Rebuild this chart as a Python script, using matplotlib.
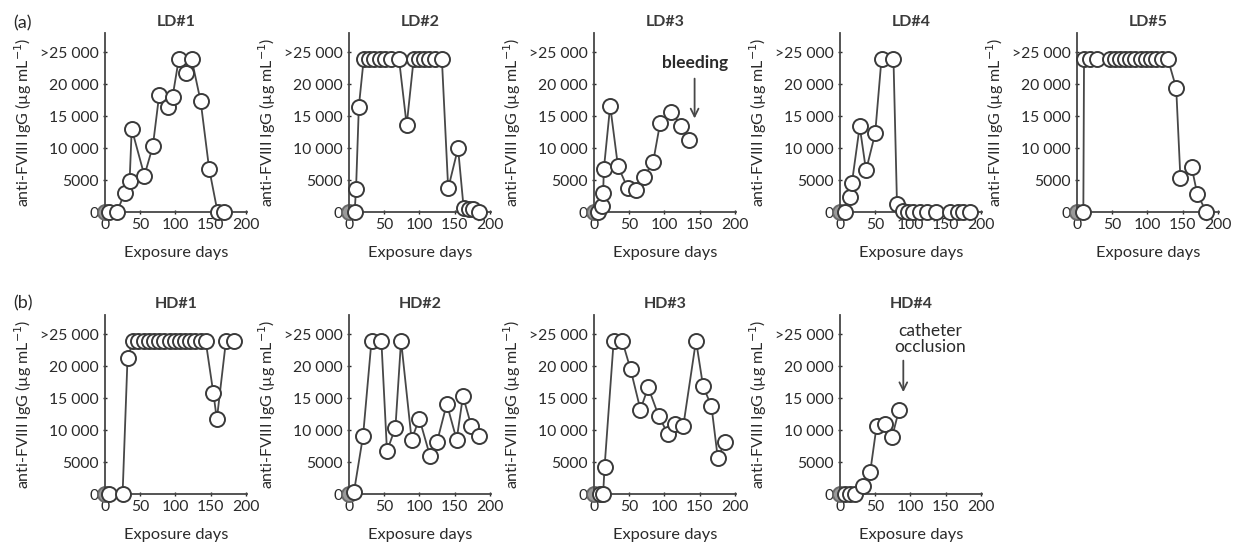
import matplotlib
matplotlib.use("Agg")
import matplotlib.pyplot as plt

# ── Data (saturated ">25 000" values drawn at 24 000) ─────────────────────────
ld1_days = [0, 6, 17, 28, 35, 38, 56, 68, 77, 89, 96, 105, 115, 123, 136, 148, 160, 169]
ld1_igg  = [0, 0, 0, 3000, 4900, 13000, 5700, 10300, 18300, 16500, 18000, 24000, 21800,
            24000, 17300, 6800, 0, 0]

ld2_days = [0, 8, 10, 14, 21, 29, 36, 44, 51, 59, 71, 82, 92, 99, 107, 114, 122, 132,
            141, 155, 163, 170, 176, 185]
ld2_igg  = [0, 0, 3600, 16500, 24000, 24000, 24000, 24000, 24000, 24000, 24000, 13600,
            24000, 24000, 24000, 24000, 24000, 24000, 3700, 10000, 600, 500, 500, 0]

ld3_days = [0, 6, 12, 13, 14, 23, 34, 48, 60, 71, 84, 94, 110, 124, 135]
ld3_igg  = [0, 0, 900, 2900, 6700, 16600, 7200, 3700, 3400, 5500, 7800, 13900, 15700,
            13500, 11300]

ld4_days = [0, 7, 14, 17, 28, 37, 50, 59, 76, 81, 90, 97, 104, 114, 123, 137, 156, 168,
            175, 185]
ld4_igg  = [0, 0, 2300, 4600, 13400, 6500, 12300, 24000, 24000, 1300, 200, 0, 0, 0, 0,
            0, 0, 0, 0, 0]

ld5_days = [0, 9, 10, 18, 28, 47, 54, 61, 68, 75, 82, 91, 98, 105, 113, 121, 129, 141,
            147, 163, 171, 184]
ld5_igg  = [0, 0, 24000, 24000, 24000, 24000, 24000, 24000, 24000, 24000, 24000, 24000,
            24000, 24000, 24000, 24000, 24000, 19400, 5300, 7000, 2800, 0]

hd1_days = [0, 5, 25, 32, 40, 47, 55, 62, 70, 77, 84, 92, 99, 106, 114, 121, 128, 136,
            143, 154, 159, 172, 184]
hd1_igg  = [0, 0, 0, 21200, 24000, 24000, 24000, 24000, 24000, 24000, 24000, 24000,
            24000, 24000, 24000, 24000, 24000, 24000, 24000, 15800, 11700, 24000, 24000]

hd2_days = [0, 7, 20, 32, 46, 54, 66, 74, 89, 100, 115, 125, 139, 153, 162, 174, 185]
hd2_igg  = [0, 300, 9100, 24000, 24000, 6700, 10400, 24000, 8500, 11800, 6000, 8100,
            14100, 8500, 15300, 10600, 9100]

hd3_days = [0, 8, 13, 15, 28, 40, 52, 66, 77, 92, 105, 115, 127, 145, 155, 167, 176, 186]
hd3_igg  = [0, 0, 0, 4200, 24000, 24000, 19500, 13200, 16700, 12200, 9400, 11000, 10700,
            24000, 16900, 13700, 5600, 8100]

hd4_days = [0, 7, 14, 21, 32, 43, 52, 64, 74, 84]
hd4_igg  = [0, 0, 0, 0, 1200, 3500, 10600, 11000, 8900, 13200]

y_ticks  = [0, 5000, 10000, 15000, 20000, 25000]
y_labels = ["0", "5000", "10 000", "15 000", "20 000", ">25 000"]
x_ticks  = [0, 50, 100, 150, 200]

# ── Style ─────────────────────────────────────────────────────────────────────
TXT  = "#2a2a2a"
LINE = "#474747"
plt.rcParams["font.family"] = ["Lato", "DejaVu Sans"]
plt.rcParams["font.size"] = 11.5

W, H = 1233, 548
fig = plt.figure(figsize=(W / 100, H / 100), dpi=100)

COL_X = [105, 349, 594, 840, 1077]          # pixel of x = 0 for each column
ROW_Y0 = {"a": 212, "b": 494}               # pixel of y = 0 for each row
AX_W = 142.1                                # px for 0..202 days
AX_H = 179                                  # px for 0..28000


def panel(col, row, title, days, igg):
    left = COL_X[col] / W
    bottom = (H - ROW_Y0[row]) / H
    ax = fig.add_axes([left, bottom, AX_W / W, AX_H / H])
    ax.plot(days, igg, color=LINE, lw=1.3, zorder=2, clip_on=False)
    ax.plot(days[1:], igg[1:], ls="none", marker="o", ms=10.8, mfc="white",
            mec="#3a3a3a", mew=1.4, zorder=3, clip_on=False)
    ax.plot(days[:1], igg[:1], ls="none", marker="o", ms=10.8, mfc="#9a9a9a",
            mec="#6a6a6a", mew=1.4, zorder=2.5, clip_on=False)

    ax.set_xlim(0, 202)
    ax.set_ylim(0, 28000)
    ax.set_xticks(x_ticks)
    ax.set_yticks(y_ticks)
    ax.set_yticklabels(y_labels)
    ax.tick_params(colors=TXT, labelsize=11.3, length=3, width=1, direction="inout",
                   pad=3)
    for s in ("top", "right"):
        ax.spines[s].set_visible(False)
    for s in ("left", "bottom"):
        ax.spines[s].set_color(LINE)
        ax.spines[s].set_linewidth(1.3)

    ax.set_title(title, fontsize=11.5, fontweight="bold", color="#3a3a3a", pad=5)
    ax.set_xlabel("Exposure days", fontsize=11.8, color=TXT, labelpad=10)
    ax.set_ylabel(r"anti-FVIII IgG (µg mL$^{-1}$)", fontsize=11.5, color=TXT,
                  labelpad=4)
    return ax


panel(0, "a", "LD#1", ld1_days, ld1_igg)
panel(1, "a", "LD#2", ld2_days, ld2_igg)
ax3 = panel(2, "a", "LD#3", ld3_days, ld3_igg)
panel(3, "a", "LD#4", ld4_days, ld4_igg)
panel(4, "a", "LD#5", ld5_days, ld5_igg)

panel(0, "b", "HD#1", hd1_days, hd1_igg)
panel(1, "b", "HD#2", hd2_days, hd2_igg)
panel(2, "b", "HD#3", hd3_days, hd3_igg)
ax9 = panel(3, "b", "HD#4", hd4_days, hd4_igg)

arrow = dict(arrowstyle="->", color=LINE, lw=1.3, mutation_scale=14)
ax3.text(144, 23300, "bleeding", ha="center", va="center", fontsize=12.5,
         fontweight="bold", color=TXT)
ax3.annotate("", xy=(143, 14200), xytext=(143, 21300), arrowprops=arrow)

ax9.text(128, 24300, "catheter\nocclusion", ha="center", va="center", fontsize=12.5,
         color=TXT, linespacing=1.0)
ax9.annotate("", xy=(90, 15500), xytext=(90, 21300), arrowprops=arrow)

fig.text(13 / W, 1 - 23 / H, "(a)", fontsize=13, color=TXT, va="center", ha="left")
fig.text(13 / W, 1 - 303 / H, "(b)", fontsize=13, color=TXT, va="center", ha="left")

fig.savefig("out.png", dpi=100, facecolor="white")
